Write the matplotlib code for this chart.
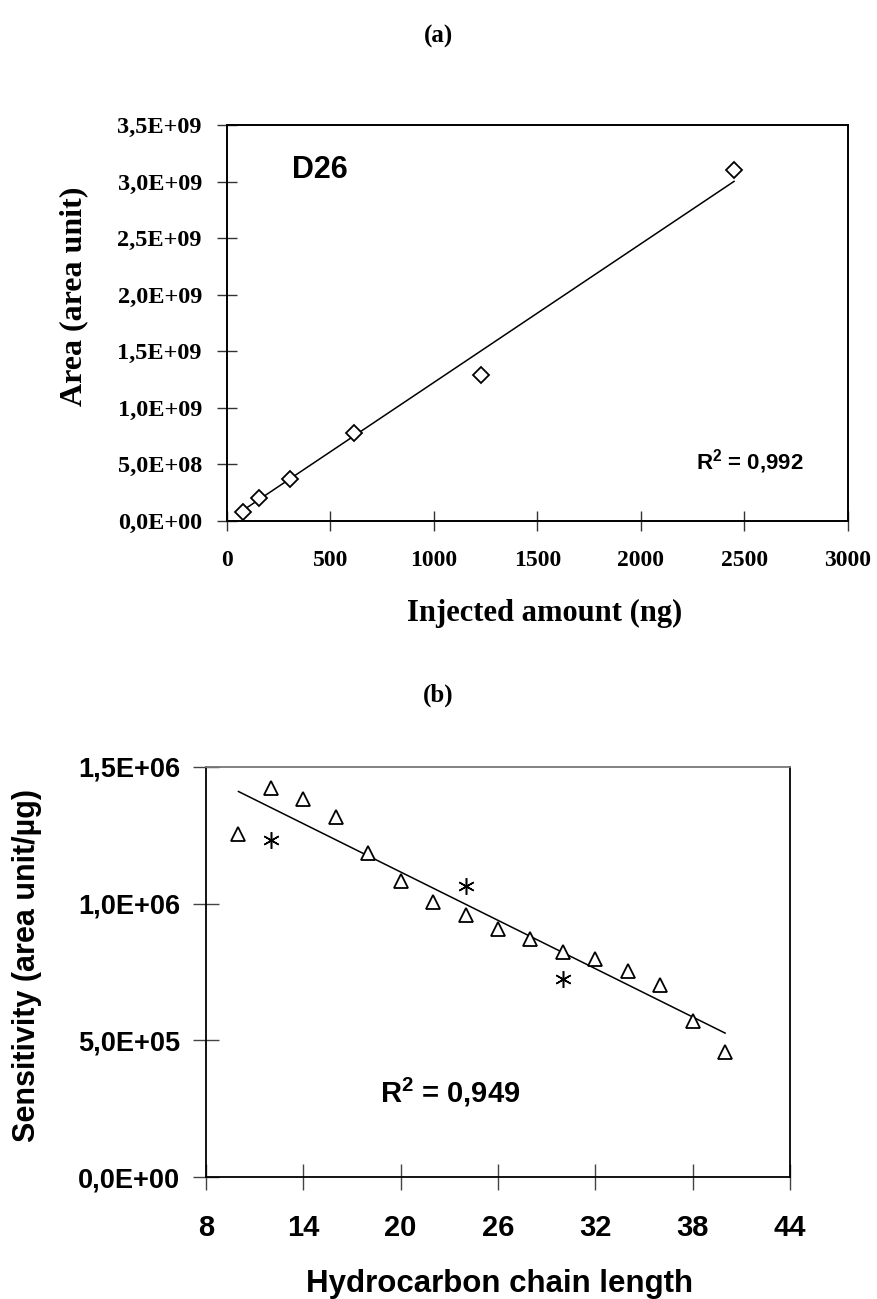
import numpy as np
import matplotlib
matplotlib.use("Agg")
import matplotlib.pyplot as plt

plt.rcParams['mathtext.fontset'] = 'custom'
plt.rcParams['mathtext.rm'] = 'Liberation Sans:bold'
plt.rcParams['mathtext.bf'] = 'Liberation Sans:bold'

# panel (a): D26 calibration
inj_ng = [76, 153, 306, 612, 1225, 2450]
area = [0.08e9, 0.207e9, 0.369e9, 0.777e9, 1.29e9, 3.10e9]
a_xticks = [0, 500, 1000, 1500, 2000, 2500, 3000]
a_yticks = [0, 0.5e9, 1.0e9, 1.5e9, 2.0e9, 2.5e9, 3.0e9, 3.5e9]
a_ylabels = ["0,0E+00", "5,0E+08", "1,0E+09", "1,5E+09", "2,0E+09", "2,5E+09", "3,0E+09", "3,5E+09"]

# panel (b): sensitivity vs chain length
chain = [10, 12, 14, 16, 18, 20, 22, 24, 26, 28, 30, 32, 34, 36, 38, 40]
sens = [1.253e6, 1.423e6, 1.382e6, 1.317e6, 1.187e6, 1.084e6, 1.007e6, 0.957e6,
        0.908e6, 0.871e6, 0.823e6, 0.798e6, 0.753e6, 0.703e6, 0.571e6, 0.456e6]
star_chain = [12, 24, 30]
star_sens = [1.233e6, 1.064e6, 0.724e6]
b_xticks = [8, 14, 20, 26, 32, 38, 44]
b_yticks = [0, 0.5e6, 1.0e6, 1.5e6]
b_ylabels = ["0,0E+00", "5,0E+05", "1,0E+06", "1,5E+06"]

serif = 'Liberation Serif'
sans = 'Liberation Sans'

fig = plt.figure(figsize=(8.77, 12.99), dpi=100)

# ---- (a)
ax = fig.add_axes([0.2588, 0.5989, 0.708, 0.3049])
ax.plot(inj_ng, area, linestyle='none', marker='D', markersize=8,
        markerfacecolor='white', markeredgecolor='black', markeredgewidth=1.3, zorder=3)
# linear fit through origin
k = np.sum(np.array(inj_ng) * np.array(area)) / np.sum(np.array(inj_ng) ** 2)
xf = np.array([inj_ng[0], inj_ng[-1]])
ax.plot(xf, k * xf, color='black', lw=1.1, zorder=2)
ax.set_xlim(0, 3000)
ax.set_ylim(0, 3.5e9)
ax.set_xticks(a_xticks)
ax.set_xticklabels([str(t) for t in a_xticks], fontfamily=serif, fontweight='bold', fontsize=17)
ax.set_yticks(a_yticks)
ax.set_yticklabels(a_ylabels, fontfamily=serif, fontweight='bold', fontsize=17.5)
ax.tick_params(axis='both', direction='inout', length=14, width=1, color='#333333')
ax.tick_params(axis='x', pad=14)
ax.tick_params(axis='y', pad=11)
for s in ax.spines.values():
    s.set_linewidth(1.4)
ax.set_xlabel("Injected amount (ng)", fontfamily=serif, fontweight='bold', fontsize=22)
ax.set_ylabel("Area (area unit)", fontfamily=serif, fontweight='bold', fontsize=23)
ax.xaxis.set_label_coords(0.512, -0.196)
ax.yaxis.set_label_coords(-0.224, 0.568)
ax.text(0.104, 0.886, "D26", transform=ax.transAxes, fontfamily=sans, fontweight='bold',
        fontsize=22, va='center', ha='left')
ax.text(0.755, 0.149, r"R$^{2}$ = 0,992", transform=ax.transAxes, fontfamily=sans,
        fontweight='bold', fontsize=16, va='center', ha='left')
fig.text(0.5, 1 - 36 / 1299, "(a)", fontfamily=serif, fontweight='bold', fontsize=18,
         ha='center', va='center')

# ---- (b)
bx = fig.add_axes([0.2349, 0.0939, 0.6659, 0.3157])
bx.plot(chain, sens, linestyle='none', marker='^', markersize=10,
        markerfacecolor='white', markeredgecolor='black', markeredgewidth=1.3, zorder=3)
bx.plot(star_chain, star_sens, linestyle='none', marker=(6, 2, 0), markersize=12,
        color='black', markeredgewidth=1.1, zorder=3)
p = np.polyfit(chain, sens, 1)
xl = np.array([chain[0], chain[-1]])
bx.plot(xl, np.polyval(p, xl), color='black', lw=1.1, zorder=2)
bx.set_xlim(8, 44)
bx.set_ylim(0, 1.5e6)
bx.set_xticks(b_xticks)
bx.set_xticklabels([str(t) for t in b_xticks], fontfamily=sans, fontweight='bold', fontsize=21)
bx.set_yticks(b_yticks)
bx.set_yticklabels(b_ylabels, fontfamily=sans, fontweight='bold', fontsize=19.5)
bx.tick_params(axis='both', direction='inout', length=19, width=1, color='#444444')
bx.tick_params(axis='x', pad=17)
bx.tick_params(axis='y', pad=9)
for s in bx.spines.values():
    s.set_linewidth(1.3)
bx.spines['top'].set_color('#777777')
bx.set_xlabel("Hydrocarbon chain length", fontfamily=sans, fontweight='bold', fontsize=22.5)
bx.set_ylabel("Sensitivity (area unit/µg)", fontfamily=sans, fontweight='bold', fontsize=22)
bx.xaxis.set_label_coords(0.502, -0.225)
bx.yaxis.set_label_coords(-0.281, 0.517)
bx.text(0.298, 0.207, r"R$^{2}$ = 0,949", transform=bx.transAxes, fontfamily=sans,
        fontweight='bold', fontsize=21, va='center', ha='left')
fig.text(0.5, 1 - 695 / 1299, "(b)", fontfamily=serif, fontweight='bold', fontsize=18,
         ha='center', va='center')

fig.savefig("out.png", dpi=100)
